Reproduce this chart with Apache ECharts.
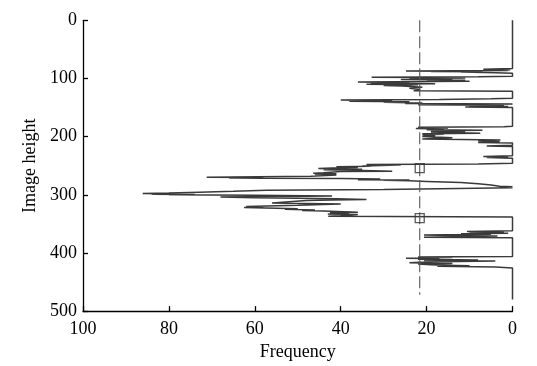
<!DOCTYPE html>
<html>
<head>
<meta charset="utf-8">
<script src="https://cdn.jsdelivr.net/npm/echarts@6/dist/echarts.min.js"></script>
<style>html,body{margin:0;padding:0;background:#fff;}#c{width:537px;height:366px;}</style>
</head>
<body>
<div id="c"></div>
<script>
// Image height (row) and frequency of the projection profile
const profileHeight = [0,83,84,85,86,86.5,87,87.5,88,88.5,89,90,91,96,97,98,98.5,99,100,101,102,103,104,105,106,107,108,109,110,111,112,113,115,117,119,121,122,134,135,136,137,138,139,140,141,142,143,144,145,146,147,148,149,150,182,183,184,185,186,187,188,189,190,191,192,194,195,196,197,199,200,202,204,205,206,207,209,210,211,215,216,217,233,234,235,236,237,246,247,248,249,250.5,251,252,253,254,255,256,257,258,259.5,260,262,263,264,265,266,268,270,270.5,271,271.5,272,273,274,274.5,275,276,277,279,281,283,285.5,286,287,288,290,291,292,294,295.6,297,298,298.5,299,299.5,300,301,302,303,304,305,306,307,308,309,310,312,314,315,316,318,320,321,322,323,324,325,326,327,328,330,331,332,333,334,336,337,338,362,363,364,365,366,367,368,369,370,371,372,373,374,406,406.5,407,408,409,410,411,412,413,414,415,416,417,418,419,420.5,421,422,423,424,426,480];
const profileFreq = [0,0,6.8,0.5,5,1,24.8,15,19,7,12,4,0,0,8,32.8,20,11,24,14,26,11,20,10,36,24,33,18,34,22,30,25.6,21,24,21.5,23,0,0,5,17,40,28,38,24,30,21,25,0,22,2,10,1,11,0,0,2,22,15,22.5,16,20,7,19,11,19,7.5,21,16,21,18,21,14,21,12,2.8,8,3,8,0,0,6,0,0,6.8,1,6,0,0,8,34,26,35,33,41,36,42,45.2,35,44,37,28,40,44,46.4,41,46,41,47,71.2,60,66,58,40,30.8,36,24,30,24,20,12,8,5,3,0,3,0,0,30,57.3,65,72.9,80,86.1,78,84,74,80,60,42,55,68,60,50,41,34,42,48,52,56,48,40,50,62,58,62.5,55,50,53,46,49,44,36,42.5,38,43,36,40,42.9,0,0,10.6,2,10,1,12,5,20.6,14,3.5,13,20.6,0,0,13,22,14,24.8,17,22,8,20.6,4,17,21.6,24,14,22,19,16,10,17.5,4,0,0];
// Threshold (dashed line) and the two marked rows
const thresholdFreq = 21.6;
const thresholdSpan = [0, 472];
const markedHeights = [254, 340];
const xTicks = [0, 20, 40, 60, 80, 100];
const yTicks = [0, 100, 200, 300, 400, 500];

const profileData = profileHeight.map((h, i) => [profileFreq[i], h]);
const chart = echarts.init(document.getElementById('c'), null, {renderer: 'canvas'});
const font = '"Liberation Serif", "Times New Roman", serif';
chart.setOption({
  animation: false,
  backgroundColor: '#fff',
  grid: {left: 83, right: 24.5, top: 20.3, bottom: 45.3},
  xAxis: {
    type: 'value', inverse: true, min: 0, max: 100, interval: 20, position: 'bottom',
    name: 'Frequency', nameLocation: 'middle', nameGap: 16,
    nameTextStyle: {fontFamily: font, fontSize: 18, color: '#000', verticalAlign: 'top'},
    axisLine: {show: true, onZero: false, lineStyle: {color: '#000', width: 1.3}},
    axisTick: {show: true, inside: true, length: 5, lineStyle: {color: '#000', width: 1.3}},
    axisLabel: {fontFamily: font, fontSize: 18, color: '#000', margin: 9},
    splitLine: {show: false}
  },
  yAxis: {
    type: 'value', inverse: true, min: 0, max: 500, interval: 100, position: 'left',
    name: 'Image height', nameLocation: 'middle', nameGap: 42, nameRotate: 90,
    nameTextStyle: {fontFamily: font, fontSize: 18, color: '#000'},
    axisLine: {show: true, onZero: false, lineStyle: {color: '#000', width: 1.3}},
    axisTick: {show: true, inside: true, length: 5, lineStyle: {color: '#000', width: 1.3}},
    axisLabel: {fontFamily: font, fontSize: 18, color: '#000', margin: 6},
    splitLine: {show: false}
  },
  series: [
    {
      type: 'line', data: profileData, showSymbol: false, symbol: 'none',
      lineStyle: {color: '#3a3a3a', width: 1.5}, z: 2
    },
    {
      type: 'line', data: thresholdSpan.map(h => [thresholdFreq, h]), showSymbol: false, symbol: 'none',
      lineStyle: {color: '#555', width: 1.1, type: [12, 4]}, z: 3
    },
    {
      type: 'scatter', data: markedHeights.map(h => [thresholdFreq, h]),
      symbol: 'rect', symbolSize: 9,
      itemStyle: {color: 'rgba(255,255,255,0)', borderColor: '#333', borderWidth: 1.3}, z: 4
    }
  ]
});
</script>
</body>
</html>
